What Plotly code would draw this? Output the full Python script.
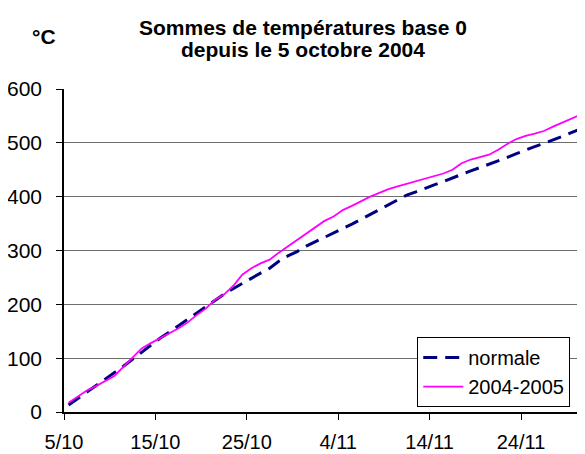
import pandas as pd
import plotly.graph_objects as go

# Daily data, 5/10/2004 .. 30/11/2004
start_date = "2004-10-05"
n_days = 57
normale = [13, 25, 37, 48, 60, 72, 85, 98, 111, 124, 137, 148, 160, 172, 184, 196,
           207, 219, 229, 239, 249, 258, 267, 280, 290, 298, 308, 316, 324, 332,
           341, 349, 358, 367, 376, 385, 394, 403, 409, 416, 422, 428, 435, 442,
           448, 454, 460, 466, 473, 480, 487, 493, 499, 505, 512, 519, 526]
saison = [17, 28, 40, 48, 57, 67, 84, 101, 118, 128, 137, 145, 155, 166, 180, 192,
          208, 218, 234, 255, 267, 276, 283, 296, 308, 320, 332, 343, 355, 363,
          375, 383, 392, 400, 407, 414, 419, 424, 429, 434, 438, 443, 450, 462,
          469, 474, 478, 487, 498, 507, 513, 517, 522, 530, 537, 544, 552]
tick_dates = ["2004-10-05", "2004-10-15", "2004-10-25", "2004-11-04", "2004-11-14", "2004-11-24"]
tick_labels = ["5/10", "15/10", "25/10", "4/11", "14/11", "24/11"]

# points sit in the middle of each day slot
dates = pd.date_range(start_date, periods=n_days, freq="D") + pd.Timedelta(hours=12)

FONT = "Liberation Sans, Arial, sans-serif"

fig = go.Figure()
fig.add_trace(go.Scatter(x=dates, y=normale, mode="lines", name="normale",
                         line=dict(color="#000080", width=3, dash="14px,8px")))
fig.add_trace(go.Scatter(x=dates, y=saison, mode="lines", name="2004-2005",
                         line=dict(color="#FF00FF", width=1.8)))

# page body has an 8px margin: figure is 577x446 placed at (8, 8)
fig.update_layout(
    width=577, height=446,
    margin=dict(l=56, r=0, t=81, b=42),
    paper_bgcolor="white", plot_bgcolor="white",
    font=dict(family=FONT, size=21, color="black"),
    showlegend=True,
    legend=dict(x=0.678, y=0.232, xanchor="left", yanchor="top",
                bgcolor="white", bordercolor="black", borderwidth=1,
                font=dict(size=20), tracegroupgap=0, itemwidth=40),
)
fig.update_xaxes(
    type="date", automargin=False,
    range=[pd.Timestamp(start_date), pd.Timestamp(start_date) + pd.Timedelta(days=n_days)],
    tickvals=tick_dates, ticktext=tick_labels, tickfont=dict(size=20),
    showgrid=False, showline=True, linecolor="black", linewidth=1.5,
    ticks="outside", ticklen=6, tickcolor="black", ticklabelstandoff=5,
    zeroline=False,
)
fig.update_yaxes(
    range=[0, 600], tickvals=[0, 100, 200, 300, 400, 500, 600], automargin=False,
    showgrid=True, gridcolor="#6e6e6e", gridwidth=1,
    showline=True, linecolor="black", linewidth=1.5,
    ticks="outside", ticklen=6, tickcolor="black", ticklabelstandoff=10,
    zeroline=False,
)
fig.add_annotation(text="<b>Sommes de températures base 0</b>", xref="paper", yref="paper",
                   x=(303 - 64) / 521, y=(412 - 27) / 323, xanchor="center", yanchor="middle",
                   showarrow=False, font=dict(size=21, family=FONT))
fig.add_annotation(text="<b>depuis le 5 octobre 2004</b>", xref="paper", yref="paper",
                   x=(303 - 64) / 521, y=(412 - 50) / 323, xanchor="center", yanchor="middle",
                   showarrow=False, font=dict(size=21, family=FONT))
fig.add_annotation(text="<b>°C</b>", xref="paper", yref="paper",
                   x=(44 - 64) / 521, y=(412 - 37) / 323, xanchor="center", yanchor="middle",
                   showarrow=False, font=dict(size=21, family=FONT))

fig.write_html("out.html")
